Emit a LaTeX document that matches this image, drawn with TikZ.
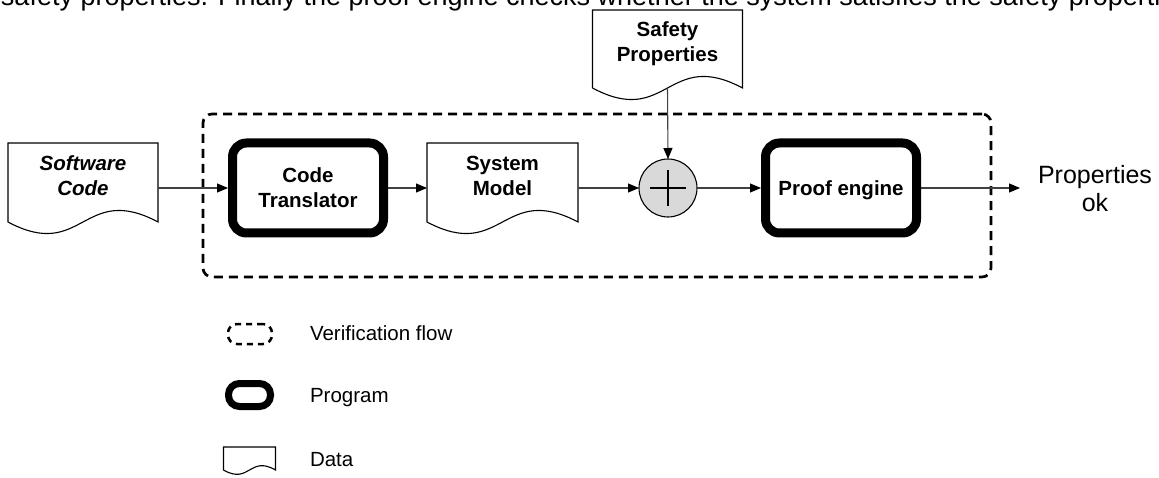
\documentclass[tikz,border=0pt]{standalone}
\usepackage{fontspec}
\setmainfont{Liberation Sans}
\usetikzlibrary{arrows.meta,calc}

% font sizes (1pt = 1 unit of the picture)
\newcommand\boxfont{\fontsize{20.5pt}{25pt}\selectfont\bfseries}
\newcommand\legfont{\fontsize{20.5pt}{25pt}\selectfont}
\newcommand\outfont{\fontsize{25pt}{28pt}\selectfont}
\newcommand\introfont{\fontsize{27pt}{30pt}\selectfont}

% outline of a "data" sheet: flat top, wavy bottom edge
\newcommand\docoutline[2]{%
  \draw[docline] (#1.north west) -- (#1.north east) -- (#1.south east)
    .. controls ([yshift=#2]#1.south) and ([yshift=-#2]#1.south) .. (#1.south west) -- cycle;}

\tikzset{
  every node/.style={inner sep=0pt, outer sep=0pt},
  docline/.style={line width=1.1pt, draw=black},
  docbox/.style={minimum width=150pt, minimum height=79pt},
  doctext/.style={align=center, font=\boxfont, text depth=0pt, yshift=7pt},
  prog/.style={draw, line width=9pt, rounded corners=14pt, minimum width=151pt,
    minimum height=90pt, outer sep=4.5pt, align=center, font=\boxfont, text depth=0pt},
  link/.style={line width=1.1pt, draw=black!75,
    -{Triangle[length=11pt,width=9pt,color=black]}},
  flowline/.style={draw, line width=2.7pt, dash pattern=on 9pt off 6pt, rounded corners=9pt},
}

\begin{document}
\begin{tikzpicture}[x=1pt, y=-1pt]
\useasboundingbox (0,0) rectangle (1159,478);
\clip (0,0) rectangle (1159,478);

% running text above the figure
\node[anchor=base west, font=\introfont] (intro) at (1,6)
  {safety properties. Finally the proof engine checks whether the system satisfies the safety properties.};

% verification flow boundary
\node[flowline, minimum width=788pt, minimum height=163pt] (flow) at (597,195.5) {};

% data items
\node[docbox, label={[doctext]center:\textit{Software}\\\textit{Code}}] (sc) at (83,182.5) {};
\docoutline{sc}{40pt}
\node[docbox, minimum width=151pt, label={[doctext]center:System\\Model}] (sm) at (502.5,182.5) {};
\docoutline{sm}{40pt}
\node[docbox, minimum height=78pt, label={[doctext]center:Safety\\Properties}] (sp) at (667.5,49) {};
\docoutline{sp}{40pt}

% programs
\node[prog] (ct) at (308,188) {Code\\Translator};
\node[prog] (pe) at (841,188) {Proof engine};

% combination point
\node[circle, draw, line width=1.1pt, fill=black!15, minimum size=58pt,
  path picture={
    \draw[line width=2.2pt]
      ([xshift=-18pt]path picture bounding box.center) -- ([xshift=18pt]path picture bounding box.center)
      ([yshift=-18pt]path picture bounding box.center) -- ([yshift=18pt]path picture bounding box.center);
  }] (mix) at (668,188) {};

% result
\node[align=center, font=\outfont, text depth=0pt, inner xsep=18pt] (out) at (1095,188) {Properties\\ok};

% connectors
\draw[link] (sc.east |- ct) -- (ct.west);
\draw[link] (ct.east) -- (sm.west |- ct);
\draw[link] (sm.east |- mix) -- (mix.west);
\draw[link] (sp.south) -- (mix.north);
\draw[link] (mix.east) -- (pe.west);
\draw[link] (pe.east) -- (out.west);

% legend
\node[draw, line width=2.5pt, dash pattern=on 6pt off 5pt, rounded corners=9pt,
  minimum width=44pt, minimum height=20pt] (lgflow) at (250,334) {};
\node[draw, line width=7pt, rounded corners=11pt, minimum width=42pt,
  minimum height=23pt] (lgprog) at (249.5,395) {};
\node[minimum width=52pt, minimum height=23pt] (lgdata) at (249.5,458.5) {};
\docoutline{lgdata}{15pt}

\node[anchor=base west, font=\legfont] (lgflowtxt) at (310,341) {Verification flow};
\node[anchor=base west, font=\legfont] (lgprogtxt) at (310,402) {Program};
\node[anchor=base west, font=\legfont] (lgdatatxt) at (310,466) {Data};
\end{tikzpicture}
\end{document}
